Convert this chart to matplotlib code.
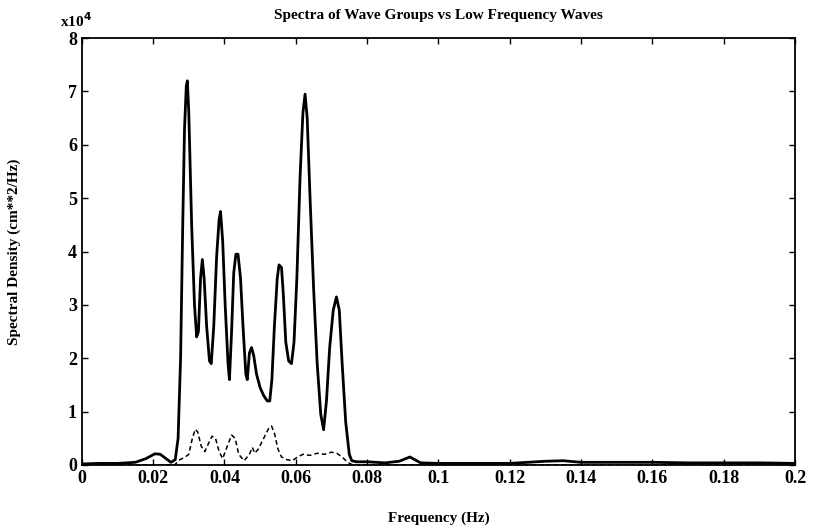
import numpy as np
import matplotlib.pyplot as plt

# spectral density, units of 1e4 cm**2/Hz
freq_groups = [0.000, 0.005, 0.010, 0.015, 0.018, 0.0205, 0.022, 0.024, 0.025, 0.0262,
               0.0270, 0.0277, 0.0283, 0.0288, 0.0293, 0.0296, 0.0300, 0.0308, 0.0316, 0.0322,
               0.0327, 0.0333, 0.0338, 0.0343, 0.0350, 0.0358, 0.0363, 0.0370, 0.0378, 0.0385,
               0.0389, 0.0395, 0.0402, 0.0410, 0.0414, 0.0420, 0.0426, 0.0432, 0.0438, 0.0445,
               0.0452, 0.0460, 0.0464, 0.0470, 0.0476, 0.0482, 0.0490, 0.0500, 0.0510, 0.0520,
               0.0527, 0.0533, 0.0540, 0.0548, 0.0553, 0.0560, 0.0565, 0.0572, 0.0580, 0.0588,
               0.0595, 0.0603, 0.0612, 0.0620, 0.0626, 0.0632, 0.0640, 0.0650, 0.0660, 0.0670,
               0.0678, 0.0686, 0.0695, 0.0705, 0.0714, 0.0722, 0.0730, 0.0740, 0.0750, 0.0757,
               0.0770, 0.0800, 0.0850, 0.0890, 0.0920, 0.0950, 0.1000, 0.1100, 0.1200, 0.1300,
               0.1350, 0.1400, 0.1500, 0.1600, 0.1700, 0.1800, 0.1900, 0.2000]
dens_groups = [0.02, 0.03, 0.03, 0.05, 0.12, 0.21, 0.20, 0.10, 0.05, 0.10,
               0.50, 2.00, 4.50, 6.30, 7.10, 7.20, 6.60, 4.50, 3.00, 2.40,
               2.50, 3.50, 3.85, 3.50, 2.60, 1.95, 1.90, 2.60, 3.90, 4.60,
               4.75, 4.20, 3.00, 1.90, 1.60, 2.50, 3.60, 3.95, 3.95, 3.50,
               2.60, 1.70, 1.60, 2.10, 2.20, 2.05, 1.70, 1.45, 1.30, 1.20,
               1.20, 1.60, 2.60, 3.50, 3.75, 3.70, 3.20, 2.30, 1.95, 1.90,
               2.30, 3.50, 5.40, 6.60, 6.95, 6.50, 5.00, 3.30, 1.90, 0.95,
               0.66, 1.20, 2.20, 2.90, 3.15, 2.90, 1.90, 0.80, 0.20, 0.08,
               0.06, 0.06, 0.04, 0.07, 0.15, 0.04, 0.03, 0.03, 0.03, 0.07,
               0.08, 0.05, 0.05, 0.05, 0.04, 0.04, 0.04, 0.03]

freq_low = [0.000, 0.026, 0.0275, 0.0290, 0.0300, 0.0310, 0.0318, 0.0325, 0.0335, 0.0345,
            0.0355, 0.0365, 0.0375, 0.0385, 0.0395, 0.0405, 0.0420, 0.0430, 0.0440, 0.0455,
            0.0470, 0.0478, 0.0485, 0.0495, 0.0510, 0.0525, 0.0532, 0.0540, 0.0550, 0.0560,
            0.0575, 0.0590, 0.0605, 0.0620, 0.0640, 0.0660, 0.0680, 0.0700, 0.0715, 0.0730,
            0.0745, 0.0760, 0.2000]
dens_low = [0.00, 0.00, 0.10, 0.15, 0.20, 0.50, 0.67, 0.62, 0.35, 0.25,
            0.40, 0.54, 0.50, 0.25, 0.12, 0.30, 0.56, 0.50, 0.20, 0.08,
            0.20, 0.33, 0.22, 0.30, 0.50, 0.70, 0.73, 0.60, 0.30, 0.15,
            0.10, 0.08, 0.15, 0.20, 0.18, 0.22, 0.20, 0.24, 0.22, 0.15,
            0.05, 0.00, 0.00]

xticks = [0, 0.02, 0.04, 0.06, 0.08, 0.1, 0.12, 0.14, 0.16, 0.18, 0.2]
xlabels = ['0', '0.02', '0.04', '0.06', '0.08', '0.1', '0.12', '0.14', '0.16', '0.18', '0.2']

plt.rcParams['font.family'] = ['Liberation Serif', 'DejaVu Serif']
plt.rcParams['font.weight'] = 'bold'

fig = plt.figure(figsize=(8.18, 5.29), dpi=100)
ax = fig.add_axes([0.100, 0.121, 0.872, 0.807])

ax.plot(freq_groups, dens_groups, color='black', lw=2.0)
ax.plot(freq_low, dens_low, color='black', lw=1.1, ls=(0, (3, 2)))

ax.set_xlim(0, 0.2)
ax.set_ylim(0, 8)
ax.set_xticks(xticks)
ax.set_xticklabels(xlabels)
ax.set_yticks(np.arange(0, 9, 1))
ax.tick_params(direction='in', top=True, right=True, length=4, labelsize=13, width=1)
for s in ax.spines.values():
    s.set_linewidth(1.3)

ax.text(-0.03, 1.025, 'x10$^4$', transform=ax.transAxes, fontsize=11, fontweight='bold')
ax.set_title('Spectra of Wave Groups vs Low Frequency Waves', fontsize=11, fontweight='bold', pad=14)
ax.set_xlabel('Frequency (Hz)', fontsize=11, fontweight='bold', labelpad=18)
ax.set_ylabel('Spectral Density (cm**2/Hz)', fontsize=11, fontweight='bold', labelpad=34)

fig.savefig('out.png', dpi=100)
